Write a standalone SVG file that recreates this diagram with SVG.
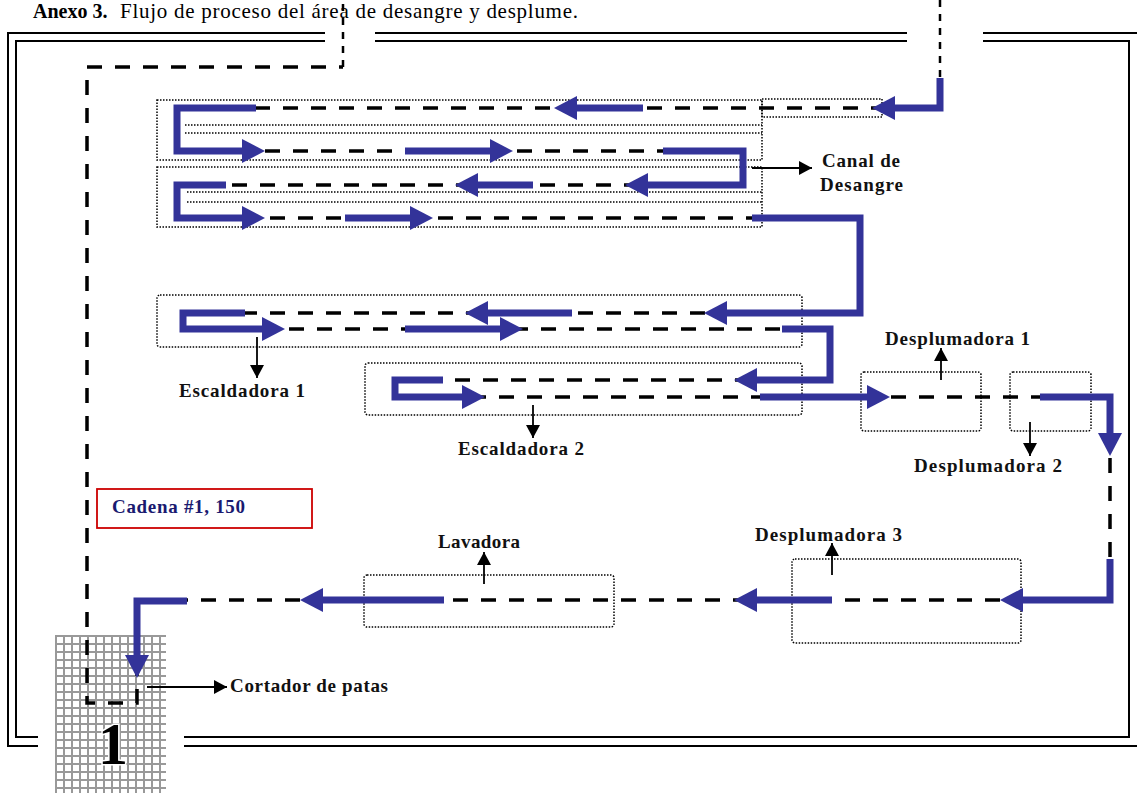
<svg xmlns="http://www.w3.org/2000/svg" width="1137" height="793" viewBox="0 0 1137 793">
<style>
.chain{fill:none;stroke:#000;stroke-width:3.5;stroke-dasharray:15 13}
.thin{fill:none;stroke:#000;stroke-width:2.5;stroke-dasharray:7 7}
.blue{fill:none;stroke:#333399;stroke-width:7;stroke-linejoin:miter}
.dot{fill:none;stroke:#000;stroke-width:1.5;stroke-dasharray:1.5 1.5}
.frame{fill:none;stroke:#000;stroke-width:2}
.ptr{fill:none;stroke:#000;stroke-width:1.8}
.lbl{font-family:"Liberation Serif","Times New Roman",serif;font-weight:bold;font-size:19px;fill:#111}
.title{font-family:"Liberation Serif","Times New Roman",serif;font-size:20px;fill:#000}
</style>
<defs>
<marker id="ba" markerUnits="userSpaceOnUse" viewBox="0 0 23 24" markerWidth="23" markerHeight="24" refX="0" refY="12" orient="auto"><path d="M0,0 L23,12 L0,24 Z" fill="#333399"/></marker>
<marker id="pa" markerUnits="userSpaceOnUse" viewBox="0 0 13 14" markerWidth="13" markerHeight="14" refX="13" refY="7" orient="auto"><path d="M0,0 L13,7 L0,14 Z" fill="#000"/></marker>
<pattern id="grid" patternUnits="userSpaceOnUse" x="55" y="635" width="8" height="8"><rect width="8" height="8" fill="#999"/><rect x="2" y="2" width="6" height="6" fill="#fff"/></pattern>
</defs>
<rect width="1137" height="793" fill="#fff"/>
<text class="title" y="18"><tspan x="33" font-weight="bold">Anexo 3.</tspan><tspan x="120" font-size="21" textLength="458">Flujo de proceso del área de desangre y desplume.</tspan></text>
<g id="frame">
<path class="frame" d="M325,33 H8 V746 H38 M184,746 H1137 M375,33 H907 M983,33 H1137"/>
<path class="frame" d="M325,41 H16 V737 H38 M184,737 H1129 V41 H983 M375,41 H907"/>
</g>
<g id="cortador-block">
<rect x="55" y="635" width="111" height="158" fill="url(#grid)"/>
</g>
<g id="canal-desangre">
<rect class="dot" x="157" y="100" width="605" height="60"/>
<rect class="dot" x="762" y="99" width="120" height="18"/>
<path class="dot" d="M185,125 H762 M185,133 H762"/>
<rect class="dot" x="157" y="167" width="605" height="60"/>
<path class="dot" d="M187,192 H762 M187,202 H762"/>
<text class="lbl" x="822" y="167" textLength="78">Canal de</text>
<text class="lbl" x="820" y="191" textLength="83">Desangre</text>
</g>
<g id="escaldadora-1">
<rect class="dot" x="157" y="295" width="645" height="52" rx="3"/>
<text class="lbl" x="179" y="397" textLength="126">Escaldadora 1</text>
</g>
<g id="escaldadora-2">
<rect class="dot" x="365" y="363" width="437" height="52" rx="3"/>
<text class="lbl" x="458" y="455" textLength="126">Escaldadora 2</text>
</g>
<g id="desplumadora-1">
<rect class="dot" x="861" y="372" width="120" height="59" rx="3"/>
<text class="lbl" x="885" y="345" textLength="145">Desplumadora 1</text>
</g>
<g id="desplumadora-2">
<rect class="dot" x="1010" y="372" width="81" height="59" rx="3"/>
<text class="lbl" x="914" y="472" textLength="148">Desplumadora 2</text>
</g>
<g id="desplumadora-3">
<rect class="dot" x="792" y="559" width="229" height="84" rx="3"/>
<text class="lbl" x="755" y="541" textLength="147">Desplumadora 3</text>
</g>
<g id="lavadora">
<rect class="dot" x="364" y="575" width="250" height="52" rx="3"/>
<text class="lbl" x="438" y="548" textLength="82">Lavadora</text>
</g>
<g id="cadena">
<rect x="97" y="489" width="215" height="39" fill="none" stroke="#cc0000" stroke-width="1.8"/>
<text class="lbl" x="112" y="513" textLength="133" style="fill:#1a1a70">Cadena #1, 150</text>
</g>
<g id="cortador">
<text class="lbl" x="230" y="692" textLength="158">Cortador de patas</text>
</g>
<g id="connectors">
<path class="thin" d="M940,0 V78"/>
<path class="thin" d="M343,67 V0"/>
<path class="chain" d="M940,78 V108 H177 V151 H743 V185 H177 V218 H860 V313 H183 V329 H830 V380 H395 V397 H1110 V600 H137 V703 H87 V67 H343"/>
<path class="blue" marker-end="url(#ba)" d="M940,78 V108 H895"/>
<path class="blue" marker-end="url(#ba)" d="M643,108 H577"/>
<path class="blue" marker-end="url(#ba)" d="M256,108 H177 V151 H242"/>
<path class="blue" marker-end="url(#ba)" d="M405,151 H490"/>
<path class="blue" marker-end="url(#ba)" d="M663,151 H743 V185 H648"/>
<path class="blue" marker-end="url(#ba)" d="M533,185 H478"/>
<path class="blue" marker-end="url(#ba)" d="M226,185 H177 V218 H242"/>
<path class="blue" marker-end="url(#ba)" d="M345,218 H410"/>
<path class="blue" marker-end="url(#ba)" d="M752,218 H860 V313 H727"/>
<path class="blue" marker-end="url(#ba)" d="M572,313 H488"/>
<path class="blue" marker-end="url(#ba)" d="M245,313 H183 V329 H262"/>
<path class="blue" marker-end="url(#ba)" d="M405,329 H500"/>
<path class="blue" marker-end="url(#ba)" d="M782,329 H830 V380 H757"/>
<path class="blue" marker-end="url(#ba)" d="M443,380 H395 V397 H462"/>
<path class="blue" marker-end="url(#ba)" d="M760,397 H867"/>
<path class="blue" marker-end="url(#ba)" d="M1040,397 H1110 V433"/>
<path class="blue" marker-end="url(#ba)" d="M1110,559 V600 H1023"/>
<path class="blue" marker-end="url(#ba)" d="M832,600 H757"/>
<path class="blue" marker-end="url(#ba)" d="M444,600 H323"/>
<path class="blue" marker-end="url(#ba)" d="M187,601 H137 V655"/>
<path class="ptr" marker-end="url(#pa)" d="M752,168 H812"/>
<path class="ptr" marker-end="url(#pa)" d="M257,337 V378"/>
<path class="ptr" marker-end="url(#pa)" d="M533,405 V438"/>
<path class="ptr" marker-end="url(#pa)" d="M941,380 V348"/>
<path class="ptr" marker-end="url(#pa)" d="M1030,422 V456"/>
<path class="ptr" marker-end="url(#pa)" d="M832,575 V543"/>
<path class="ptr" marker-end="url(#pa)" d="M484,584 V552"/>
<path class="ptr" marker-end="url(#pa)" d="M147,687 H227"/>
</g>
<text x="113" y="764" text-anchor="middle" font-family="Liberation Serif, Times New Roman, serif" font-weight="bold" font-size="60" fill="#000" stroke="#fff" stroke-width="3" paint-order="stroke">1</text>
</svg>
